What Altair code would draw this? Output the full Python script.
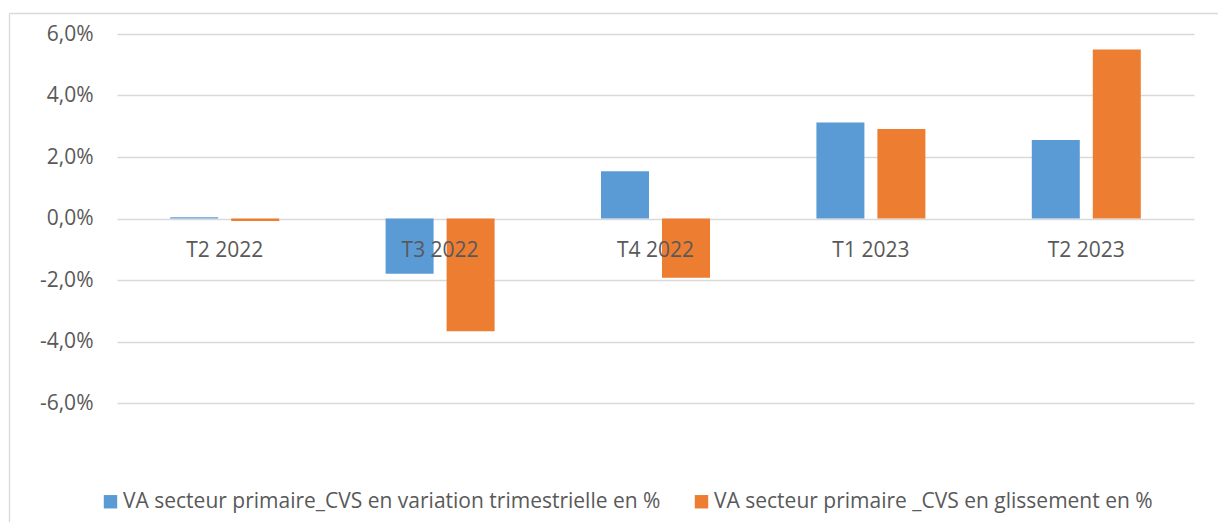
import altair as alt
import pandas as pd

categories = ["T2 2022", "T3 2022", "T4 2022", "T1 2023", "T2 2023"]
series = [
    "VA secteur primaire_CVS en variation trimestrielle en %",
    "VA secteur primaire _CVS en glissement en %",
]
variation = [0.04, -1.80, 1.54, 3.12, 2.55]
glissement = [-0.08, -3.67, -1.93, 2.91, 5.50]
y_ticks = [-6, -4, -2, 0, 2, 4, 6]
colors = ["#5B9BD5", "#ED7D31"]

rows = []
for c, v in zip(categories, variation):
    rows.append({"cat": c, "series": series[0], "value": v})
for c, v in zip(categories, glissement):
    rows.append({"cat": c, "series": series[1], "value": v})
df = pd.DataFrame(rows)

W, H = 1077, 369
TEXT = "#595959"
GRID = "#D9D9D9"

bars = alt.Chart(df).mark_bar().encode(
    x=alt.X(
        "cat:N",
        sort=categories,
        scale=alt.Scale(paddingInner=0.494, paddingOuter=0.247),
        axis=alt.Axis(
            title=None, orient="bottom", offset=-H / 2, domain=False, ticks=False,
            labelPadding=21, labelAngle=0, labelFontSize=21, labelColor=TEXT,
            labelFont="Open Sans", zindex=1, grid=False,
        ),
    ),
    xOffset=alt.XOffset(
        "series:N", sort=series,
        scale=alt.Scale(paddingInner=0.213, paddingOuter=0),
    ),
    y=alt.Y(
        "value:Q",
        scale=alt.Scale(domain=[-6, 6], nice=False),
        axis=alt.Axis(
            title=None, values=y_ticks, domain=False, ticks=False,
            labelExpr="(datum.value < 0 ? '-' : '') + replace(format(abs(datum.value), '.1f'), '.', ',') + '%'",
            labelPadding=24, labelFontSize=21, labelColor=TEXT, labelFont="Open Sans",
            grid=True, gridColor=GRID, gridWidth=1.3, zindex=0,
        ),
    ),
    color=alt.Color(
        "series:N", sort=series,
        scale=alt.Scale(domain=series, range=colors),
        legend=alt.Legend(
            title=None, orient="none", legendX=-17, legendY=457, direction="horizontal",
            symbolType="square", symbolSize=180, symbolStrokeWidth=0,
            labelFontSize=21, labelColor=TEXT, labelFont="Open Sans",
            columnPadding=30, labelOffset=2, labelLimit=0, padding=0,
        ),
    ),
)

one = pd.DataFrame({"a": [0]})
border_top = alt.Chart(one).mark_rule(color=GRID, strokeWidth=1.3).encode(
    x=alt.value(-107.5), x2=alt.value(W + 24), y=alt.value(-20.5)
)
border_left = alt.Chart(one).mark_rule(color=GRID, strokeWidth=1.3).encode(
    x=alt.value(-107.5), y=alt.value(-20.5), y2=alt.value(H + 119)
)

chart = alt.layer(border_top, border_left, bars).properties(
    width=W, height=H,
    autosize=alt.AutoSizeParams(type="none"),
    padding={"left": 109, "top": 26, "right": 24, "bottom": 119},
    background="white",
).configure(font="Open Sans").configure_view(stroke=None)

chart.save("out.html", embed_options={"renderer": "svg", "actions": False})
